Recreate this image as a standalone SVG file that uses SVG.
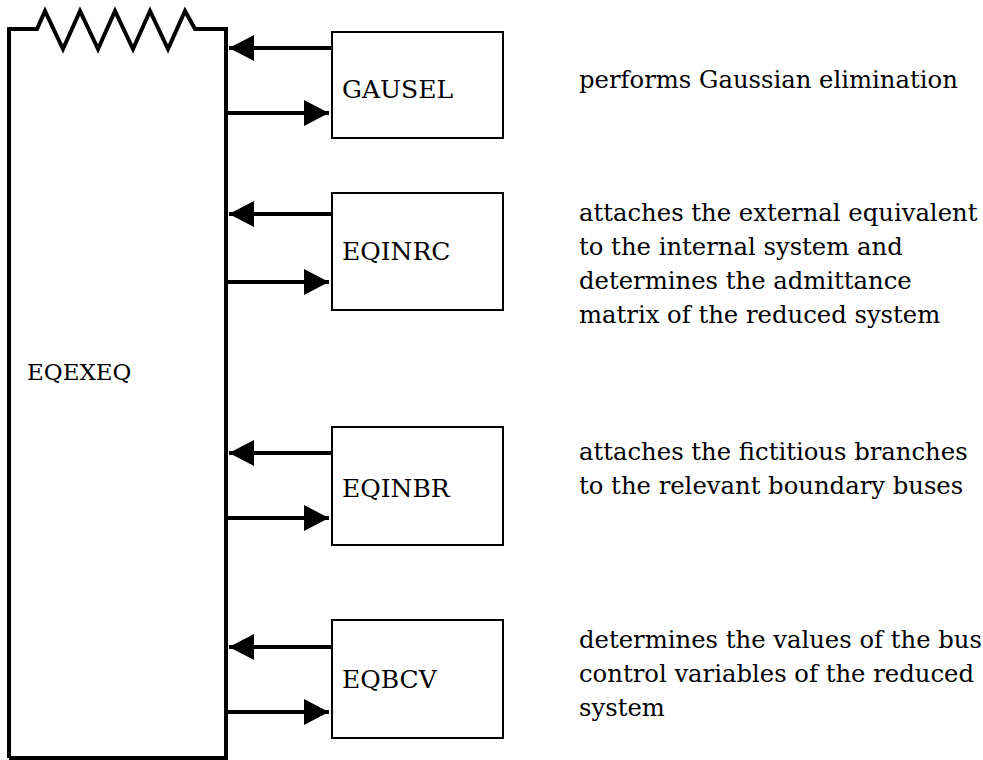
<svg xmlns="http://www.w3.org/2000/svg" width="983" height="760" viewBox="0 0 983 760">
<style>
.main{fill:none;stroke:#000;stroke-width:4;stroke-linejoin:miter}
.box{fill:#fff;stroke:#000;stroke-width:2}
.lbl{font-family:"DejaVu Serif","Liberation Serif",serif;font-size:25px;fill:#000}
.big{font-family:"DejaVu Serif","Liberation Serif",serif;font-size:23px;fill:#000}
.desc{font-family:"DejaVu Serif","Liberation Serif",serif;font-size:24.3px;fill:#000}
.arr{stroke:#000;stroke-width:4;fill:none}
</style>
<defs>
<marker id="ah" viewBox="0 0 25 26" refX="25" refY="13" markerWidth="25" markerHeight="26" markerUnits="userSpaceOnUse" orient="auto">
<path d="M0,0 L25,13 L0,26 Z" fill="#000"/>
</marker>
</defs>
<g id="EQEXEQ">
<path class="main" d="M9,758 L9,29 L37,29 L45,11 L63,49 L80,11 L98,49 L115,11 L133,49 L150,11 L168,49 L185,11 L195,29 L226,29 L226,758 L9,758"/>
<text class="big" x="27" y="380">EQEXEQ</text>
</g>
<g id="GAUSEL">
<rect class="box" x="332" y="32" width="171" height="106"/>
<text class="lbl" x="342" y="98">GAUSEL</text>
<text class="desc" x="579" y="88">performs Gaussian elimination</text>
</g>
<g id="EQINRC">
<rect class="box" x="332" y="193" width="171" height="117"/>
<text class="lbl" x="342" y="260">EQINRC</text>
<text class="desc" x="579" y="221">attaches the external equivalent</text>
<text class="desc" x="579" y="255">to the internal system and</text>
<text class="desc" x="579" y="289">determines the admittance</text>
<text class="desc" x="579" y="323">matrix of the reduced system</text>
</g>
<g id="EQINBR">
<rect class="box" x="332" y="427" width="171" height="118"/>
<text class="lbl" x="342" y="497">EQINBR</text>
<text class="desc" x="579" y="460">attaches the fictitious branches</text>
<text class="desc" x="579" y="494">to the relevant boundary buses</text>
</g>
<g id="EQBCV">
<rect class="box" x="332" y="620" width="171" height="118"/>
<text class="lbl" x="342" y="688">EQBCV</text>
<text class="desc" x="579" y="648">determines the values of the bus</text>
<text class="desc" x="579" y="682">control variables of the reduced</text>
<text class="desc" x="579" y="716">system</text>
</g>
<g id="connectors">
<line class="arr" x1="332" y1="48" x2="229" y2="48" marker-end="url(#ah)"/>
<line class="arr" x1="226" y1="113" x2="329" y2="113" marker-end="url(#ah)"/>
<line class="arr" x1="332" y1="214" x2="229" y2="214" marker-end="url(#ah)"/>
<line class="arr" x1="226" y1="282" x2="329" y2="282" marker-end="url(#ah)"/>
<line class="arr" x1="332" y1="453" x2="229" y2="453" marker-end="url(#ah)"/>
<line class="arr" x1="226" y1="518" x2="329" y2="518" marker-end="url(#ah)"/>
<line class="arr" x1="332" y1="647" x2="229" y2="647" marker-end="url(#ah)"/>
<line class="arr" x1="226" y1="712" x2="329" y2="712" marker-end="url(#ah)"/>
</g>
</svg>
